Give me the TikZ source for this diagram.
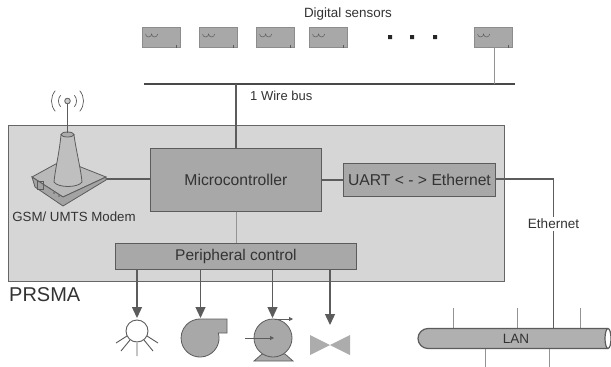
\documentclass[tikz,border=0pt]{standalone}
\usepackage{fontspec}
\setmainfont{Liberation Sans}
\usetikzlibrary{arrows.meta}
\definecolor{panel}{gray}{0.84}
\definecolor{blockc}{gray}{0.66}
\definecolor{linec}{gray}{0.36}
\definecolor{txt}{gray}{0.2}
\tikzset{
  labeltext/.style={text=txt,inner sep=0pt,font=\fontsize{#1}{#1}\selectfont},
  block/.style={draw=linec,fill=blockc,line width=0.9pt,inner sep=0pt},
  sensor/.style={draw=gray!90,fill=blockc,line width=0.8pt,minimum width=38pt,minimum height=20pt,inner sep=0pt},
  bus/.style={draw=linec!80!black,line width=2pt},
  wire/.style={draw=linec,line width=1.4pt},
  thinwire/.style={draw=gray!85,line width=0.9pt},
  downarrow/.style={draw=linec,line width=1.3pt,-{Triangle[length=11pt,width=10pt]}},
  symbol/.style={draw=linec,fill=blockc,line width=0.8pt}
}
\newcommand{\sensorglyph}[1]{%
  \draw[linec,line width=0.5pt] ([xshift=4pt,yshift=3pt]#1.west) arc[start angle=180,end angle=360,radius=3pt] arc[start angle=180,end angle=360,radius=3pt];
  \draw[linec,line width=0.7pt] ([xshift=-4pt,yshift=-8pt]#1.east) -- ++(0,-3pt);
}
\begin{document}
\begin{tikzpicture}[x=1pt,y=-1pt]
\useasboundingbox (0,0) rectangle (611,367);
\fill[white] (0,0) rectangle (611,367);
% panel
\node[draw=gray!80!black,fill=panel,line width=0.8pt,minimum width=496pt,minimum height=156pt,inner sep=0pt,anchor=north west] (prsma) at (8,125) {};
% sensors
\node[sensor] (s1) at (161,37) {};
\node[sensor] (s2) at (218,37) {};
\node[sensor] (s3) at (275,37) {};
\node[sensor] (s4) at (328,37) {};
\node[sensor] (s5) at (493,37) {};
\foreach \s in {s1,s2,s3,s4,s5}{\sensorglyph{\s}}
\fill[black!85] (388,35) rectangle ++(4,4) (410,35) rectangle ++(4,4) (433,35) rectangle ++(4,4);
\node[labeltext=13.4] (ds) at (348,14) {Digital sensors};
% bus
\coordinate (busl) at (144,84);
\coordinate (busr) at (515,84);
\coordinate (busA) at (236,84);
\coordinate (busB) at (494,84);
\draw[bus] (busl) -- (busr);
\node[labeltext=13,anchor=west] (bl) at (250,96) {1 Wire bus};
% blocks
\node[block,minimum width=171pt,minimum height=63pt,anchor=north west] (mc) at (150,148) {};
\node[labeltext=15.7] at (mc.center) {Microcontroller};
\node[block,minimum width=152pt,minimum height=33pt,anchor=north west] (ue) at (343,163) {};
\node[labeltext=15.7] at (ue.center) {UART < - > Ethernet};
\node[block,minimum width=241pt,minimum height=26pt,anchor=north west] (pc) at (115,243) {};
\node[labeltext=15.5] at (pc.center) {Peripheral control};
% connections
\draw[wire] (busA) -- (mc.north -| busA);
\draw[thinwire] (s5.south -| busB) -- (busB);
\draw[wire] (mc.east |- ue.west) -- (ue.west);
\draw[thinwire] (mc.south) -- (pc.north -| mc.south);
% modem
\coordinate (modemport) at (106,179);
\draw[wire] (modemport) -- (mc.west |- modemport);
\draw[symbol,fill=gray!55] (32,177) -- (63,160) -- (106,177) -- (63,197) -- cycle;
\draw[symbol,fill=gray!72] (32,177) -- (63,197) -- (106,177) -- (106,180) -- (63,206) -- (35,187) -- cycle;
\draw[linec,line width=0.5pt] (37,181) rectangle (43,189);
\fill[linec] (54,193) circle (0.8pt) (59,196) circle (0.8pt);
\draw[symbol,fill=gray!50] (61,135) .. controls (59,155) and (55,170) .. (54,182) .. controls (58,188) and (78,188) .. (82,182) .. controls (81,170) and (76,150) .. (74,135) -- cycle;
\draw[symbol,fill=gray!65] (67.5,134.5) ellipse (6.5pt and 2.5pt);
\coordinate (ant) at (67.5,101);
\draw[linec,line width=1.2pt] (ant) -- (67.5,133);
\draw[symbol,fill=gray!40] (ant) circle (2.8pt);
\foreach \r in {9,16}{
  \draw[gray!70!black,line width=0.7pt] (ant) ++(-40:\r pt) arc[start angle=-40,end angle=40,radius=\r pt];
  \draw[gray!70!black,line width=0.7pt] (ant) ++(140:\r pt) arc[start angle=140,end angle=220,radius=\r pt];
}
\node[labeltext=13.3] (gl) at (74,217) {GSM/ UMTS Modem};
\node[labeltext=20,anchor=west] (pl) at (9,295) {PRSMA};
% ethernet
\coordinate (e1) at (553.5,179);
\coordinate (e2) at (553.5,329);
\draw[wire] (ue.east |- e1) -- (e1) -- (e2);
\node[labeltext=13.5,fill=white,inner sep=2pt] (el) at (553.5,224) {Ethernet};
% arrows
\coordinate (a1) at (137,269);
\coordinate (a2) at (200.5,269);
\coordinate (a3) at (272.5,269);
\coordinate (a4) at (330,269);
\coordinate (b1) at (137,318);
\coordinate (b2) at (200.5,318);
\coordinate (b3) at (272.5,318);
\coordinate (b4) at (330,325);
\draw[downarrow] (a1) -- (b1);
\draw[downarrow] (a2) -- (b2);
\draw[downarrow] (a3) -- (b3);
\draw[downarrow] (a4) -- (b4);
% lamp
\draw[linec,line width=0.9pt,fill=white] (137,331) circle (11pt);
\draw[gray!70!black,line width=0.9pt]
 (127,336) -- (116,343) (130,340) -- (121,351) (137,343) -- (137,356) (144,340) -- (153,351) (147,336) -- (158,343);
% blower
\draw[symbol] (200,319) -- (227,319) -- (227,333) -- (218.4,333.1) arc[start angle=15,end angle=-270,radius=19pt] -- cycle;
% pump
\draw[symbol] (254,361) -- (262,354) -- (285,354) -- (293,361) -- cycle;
\draw[symbol] (273,338) circle (19pt);
\draw[linec,line width=0.8pt,-{Triangle[length=4pt,width=4pt]}] (245,338) -- (274,338);
\draw[linec,line width=0.8pt,-{Triangle[length=4pt,width=4pt]}] (275,319) -- (293,319);
% valve
\fill[gray!65] (310,335) -- (350,355) -- (350,335) -- (310,355) -- cycle;
% LAN
\draw[thinwire] (453,329) -- (453,308) (517,329) -- (517,308) (580,329) -- (580,308);
\draw[thinwire] (485,349) -- (485,367) (549,349) -- (549,367);
\draw[draw=linec,line width=1.2pt,fill=gray!62] (608,328.5) -- (428,328.5) arc[start angle=90,end angle=270,radius=10pt] -- (608,348.5);
\draw[draw=linec,line width=1.2pt,fill=white] (608,338.5) ellipse (3pt and 10pt);
\node[labeltext=13.5] (lan) at (516,338.5) {LAN};
\end{tikzpicture}
\end{document}
